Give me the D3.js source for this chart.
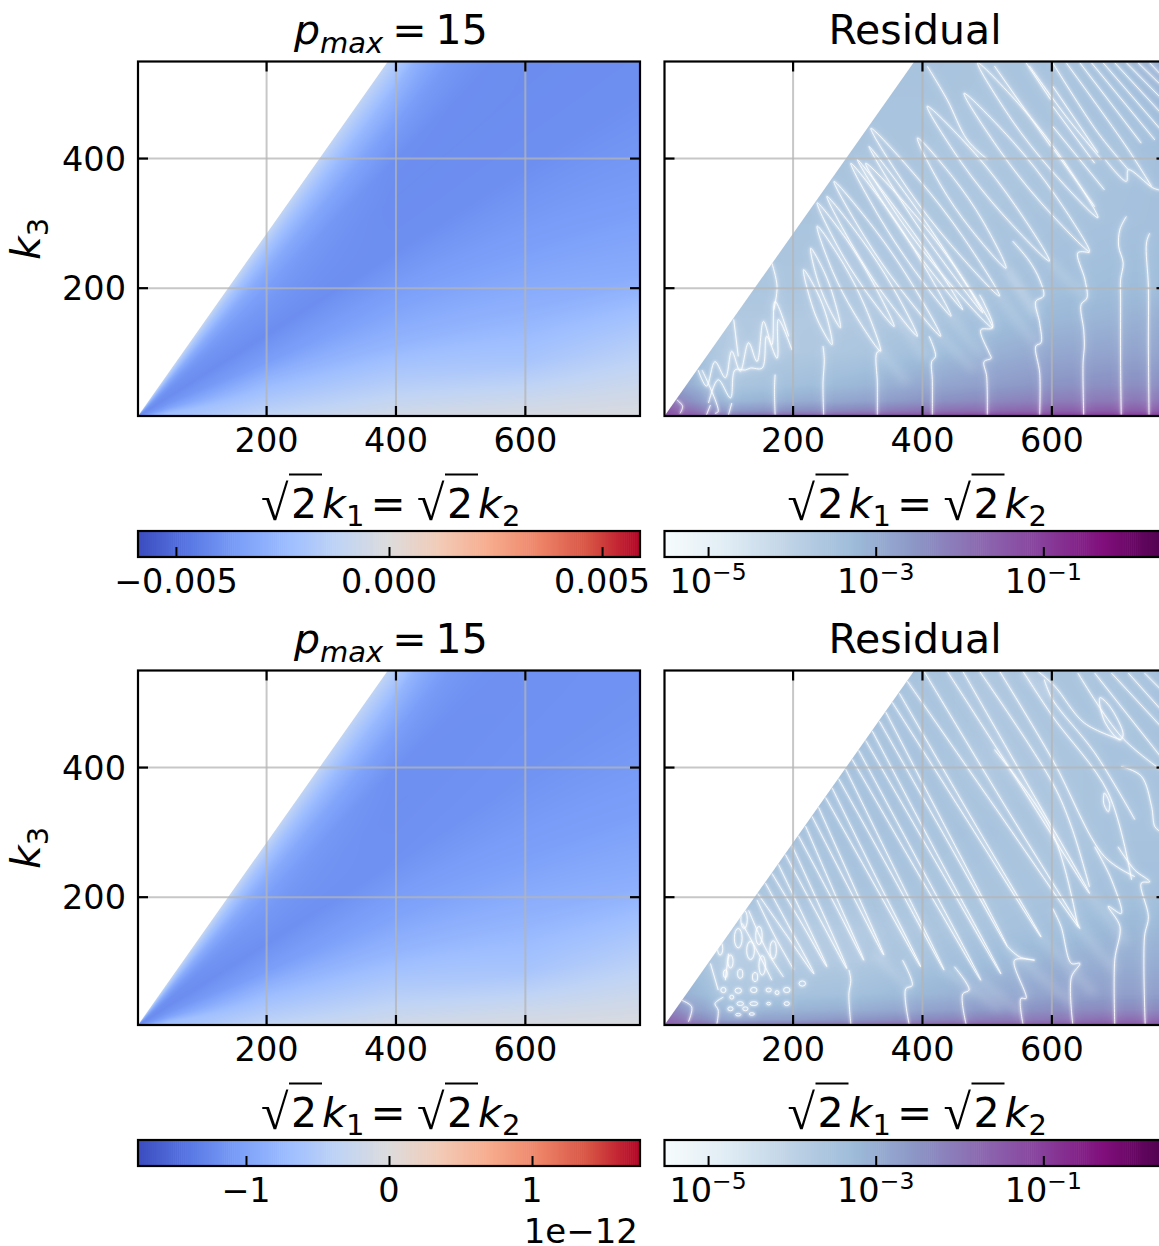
<!DOCTYPE html>
<html><head><meta charset="utf-8">
<script src="https://cdn.jsdelivr.net/npm/d3@7"></script>
<style>
html,body{margin:0;padding:0;background:#fff;overflow:hidden}
svg{display:block}
text{font-family:"DejaVu Sans";fill:#000}
</style></head><body>
<svg id="fig" width="1159" height="1246"></svg>
<script>
// ---------- axis data ----------
const xDomain=[2,778], yDomain=[2,549];
const xTicks=[200,400,600], yTicks=[200,400];
const cbTicksA=[-0.005,0,0.005], cbLabelsA=["\u22120.005","0.000","0.005"], cbDomainA=[-0.00589,0.00589];
const cbTicksB=[-1e-12,0,1e-12], cbLabelsB=["\u22121","0","1"], cbDomainB=[-1.755e-12,1.755e-12];
const cbTicksLog=[1e-5,1e-3,1e-1], cbExpLog=["\u22125","\u22123","\u22121"], cbDomainLog=[3.02e-6,2.95];
const coolwarmStops=["#3b4cc0","#5977e3","#7b9ff9","#9ebeff","#c0d4f5","#dddcdc","#f2cbb7","#f7ac8e","#ee8468","#d65244","#b40426"];
const bupuStops=["#f7fcfd","#e0ecf4","#bfd3e6","#9ebcda","#8c96c6","#8c6bb1","#88419d","#810f7c","#4d004b"];

// ---------- left fields: value on (k1 column, k3/(sqrt2 k1) row) ----------
const fieldCols=[5,50,200,400,600,778];
const fieldRatios=[0,0.03,0.1,0.2,0.3,0.45,0.6,0.7,0.8,0.9,1];
const fieldTop=[ // in units of 1e-3
 [-2.36,-1.41,-0.94,-0.35,-0.18,-0.12],
 [-2.9,-2.2,-1.3,-0.82,-0.71,-0.53],
 [-3.53,-2.36,-1.88,-1.65,-2.0,-1.53],
 [-3.9,-3.3,-2.65,-2.71,-2.89,-3.06],
 [-4.0,-3.77,-3.53,-3.36,-3.48,-3.59],
 [-4.12,-4.06,-4.05,-4.0,-4.0,-4.0],
 [-3.89,-3.95,-3.77,-4.05,-4.05,-4.05],
 [-3.53,-3.65,-3.53,-4.0,-4.05,-4.05],
 [-2.95,-3.06,-3.06,-3.53,-4.0,-4.05],
 [-2.0,-2.12,-2.24,-2.59,-4.0,-4.05],
 [-0.94,-0.94,-1.06,-1.18,-1.18,-1.18]];
const fieldBottom=[ // in units of 1e-12
 [-0.70,-0.42,-0.28,-0.12,-0.06,-0.035],
 [-0.88,-0.67,-0.39,-0.25,-0.21,-0.16],
 [-1.05,-0.70,-0.56,-0.49,-0.60,-0.46],
 [-1.16,-0.98,-0.79,-0.79,-0.84,-0.88],
 [-1.19,-1.12,-1.05,-1.0,-1.03,-1.05],
 [-1.22,-1.21,-1.19,-1.17,-1.16,-1.16],
 [-1.16,-1.19,-1.12,-1.19,-1.18,-1.17],
 [-1.05,-1.09,-1.05,-1.18,-1.18,-1.17],
 [-0.88,-0.91,-0.91,-1.05,-1.18,-1.17],
 [-0.60,-0.63,-0.67,-0.77,-1.18,-1.17],
 [-0.28,-0.28,-0.32,-0.35,-0.35,-0.35]];

// ---------- right fields: log10 residual on (k1 column, k3 row) ----------
const resCols=[2,40,100,200,300,400,500,600,700,778];
const resRows=[2,10,25,50,100,150,200,300,400,549];
const resTop=[
 [-1.3,-1.4,-1.9,-1.7,-1.5,-1.3,-1.1,-1.0,-0.9,-0.9],
 [-1.4,-1.8,-2.6,-2.4,-2.2,-1.9,-1.8,-1.6,-1.5,-1.5],
 [-1.8,-2.4,-3.2,-3.0,-2.8,-2.5,-2.3,-2.1,-2.0,-2.0],
 [-2.6,-3.0,-3.6,-3.4,-3.2,-2.9,-2.7,-2.5,-2.4,-2.4],
 [-3.2,-3.4,-3.8,-3.7,-3.6,-3.4,-3.1,-2.9,-2.8,-2.8],
 [-3.6,-3.6,-3.7,-3.7,-3.7,-3.6,-3.4,-3.2,-3.1,-3.0],
 [-3.5,-3.5,-3.6,-3.6,-3.6,-3.6,-3.5,-3.4,-3.3,-3.3],
 [-3.5,-3.5,-3.55,-3.55,-3.55,-3.55,-3.55,-3.5,-3.45,-3.4],
 [-3.5,-3.5,-3.55,-3.55,-3.55,-3.55,-3.6,-3.55,-3.5,-3.4],
 [-3.5,-3.5,-3.5,-3.5,-3.5,-3.5,-3.55,-3.5,-3.3,-3.0]];
const resBottom=[
 [-1.6,-1.7,-2.1,-2.0,-1.9,-1.7,-1.6,-1.5,-1.4,-1.4],
 [-1.7,-2.1,-2.8,-2.7,-2.5,-2.3,-2.1,-2.0,-1.8,-1.8],
 [-2.1,-2.6,-3.2,-3.1,-3.0,-2.8,-2.6,-2.4,-2.3,-2.3],
 [-2.7,-3.1,-3.6,-3.5,-3.4,-3.2,-3.0,-2.8,-2.7,-2.7],
 [-3.2,-3.4,-3.8,-3.7,-3.7,-3.5,-3.3,-3.1,-3.0,-3.0],
 [-3.4,-3.5,-3.7,-3.7,-3.7,-3.6,-3.5,-3.4,-3.2,-3.2],
 [-3.45,-3.45,-3.5,-3.5,-3.5,-3.5,-3.55,-3.5,-3.4,-3.4],
 [-3.4,-3.4,-3.4,-3.4,-3.4,-3.45,-3.5,-3.6,-3.5,-3.5],
 [-3.4,-3.4,-3.4,-3.35,-3.35,-3.45,-3.65,-3.6,-3.5,-3.5],
 [-3.4,-3.4,-3.4,-3.4,-3.4,-3.5,-3.6,-3.55,-3.5,-3.4]];

// ---------- residual ridges (k1,k3) : top panel ----------
const loopsTop=[
 [[217,228],[238,193],[253,154],[261,112],[240,147],[226,186]],
 [[228,261],[249,224],[264,183],[274,138],[253,175],[237,217]],
 [[238,295],[279,236],[312,171],[336,102],[295,161],[262,225]],
 [[238,331],[285,272],[324,208],[357,140],[310,199],[270,263]],
 [[253,341],[307,274],[354,202],[393,125],[339,192],[293,264]],
 [[264,364],[327,290],[382,210],[429,125],[366,199],[311,279]],
 [[290,392],[349,318],[400,239],[445,156],[386,230],[334,309]],
 [[300,398],[359,323],[414,246],[463,166],[403,240],[349,317]],
 [[313,392],[388,314],[453,229],[509,138],[434,217],[369,301]],
 [[318,418],[382,335],[440,250],[494,161],[430,244],[371,329]],
 [[321,446],[396,366],[463,279],[520,187],[444,267],[377,354]],
 [[393,431],[448,370],[494,303],[530,230],[475,291],[429,358]],
 [[408,480],[482,407],[544,327],[597,241],[524,314],[461,393]],
 [[465,500],[540,426],[605,344],[659,256],[584,331],[520,412]],
 [[486,547],[558,474],[620,394],[672,308],[600,381],[538,460]]];
const ridgesTop=[
 [[173,4],[172,43],[173,66]],
 [[248,4],[247,53],[249,89],[247,110]],
 [[331,4],[331,53],[330,99],[336,104]],
 [[416,4],[416,58],[415,86],[421,94],[411,125]],
 [[501,4],[500,63],[496,86],[507,91],[504,99],[491,135],[509,138],[496,176],[489,189]],
 [[582,4],[582,68],[576,110],[584,115],[582,145],[576,179],[588,187],[582,212],[566,241],[540,272]],
 [[650,4],[649,84],[651,110],[650,135],[646,174],[655,184],[652,212],[641,254],[659,254]],
 [[708,4],[707,84],[707,181],[707,212],[711,238],[704,264],[706,290],[716,310]],
 [[751,4],[750,109],[750,202],[747,269],[752,284]],
 [[566,542],[623,464],[677,398]],
 [[602,547],[672,439],[719,382]],
 [[623,547],[719,413],[755,356]],
 [[644,547],[739,423]],
 [[662,547],[760,428]],
 [[680,547],[769,444]],
 [[698,547],[769,470]],
 [[716,547],[769,493]],
 [[734,547],[769,513]],
 [[752,547],[769,529]],
 [[683,398],[716,364],[719,382],[757,354],[770,350]],
 [[602,511],[672,408]],
 [[602,480],[667,392]],
 [[602,449],[682,351]],
 [[604,413],[667,325]],
 [[408,542],[439,490],[470,428],[501,398]],
 [[512,542],[599,418]],
 [[561,547],[599,490]],
 [[54,73],[67,48],[80,86],[96,61],[106,102],[119,71],[132,115],[145,86],[155,148],[168,112],[173,179],[194,125]],
 [[70,22],[85,58],[104,30],[111,73],[127,73],[135,76],[153,76],[160,125],[176,91],[178,151],[199,104]],
 [[21,27],[30,17],[26,6]],
 [[67,4],[73,19]],
 [[80,6],[85,9],[60,73]],
 [[101,4],[106,22]],
 [[109,151],[116,94]],
 [[168,238],[176,202],[171,166]]];
const streaksTop=[
 [[532,228],[574,156]],[[445,156],[491,94]],[[520,187],[574,115]],[[597,241],[651,187]],
 [[530,230],[579,161]],[[362,153],[408,89]],[[336,102],[377,53]],[[429,125],[481,73]]];

// ---------- residual ridges (k1,k3) : bottom panel ----------
const ridgesBottom=[
 [[146,205],[189,143],[233,81],[196,151],[158,221]],
 [[168,236],[211,164],[253,92],[216,171],[178,250]],
 [[189,265],[236,177],[284,89],[242,185],[199,279]],
 [[209,294],[260,198],[310,102],[265,205],[220,309]],
 [[230,324],[285,217],[341,110],[291,224],[240,338]],
 [[251,353],[324,223],[398,92],[329,230],[261,368]],
 [[271,382],[353,235],[434,87],[358,242],[282,397]],
 [[292,412],[391,241],[491,71],[397,249],[302,426]],
 [[313,441],[417,261],[522,81],[422,268],[323,456]],
 [[334,471],[433,297],[532,123],[438,304],[344,485]],
 [[354,500],[469,319],[584,138],[474,326],[365,514]],
 [[377,533],[510,342],[644,151],[523,349],[403,548]],
 [[439,548],[549,377],[659,205],[561,377],[463,548]],
 [[489,548],[602,375],[631,308],[659,215]],
 [[520,548],[602,411],[682,262],[729,231]],
 [[556,548],[602,478],[688,360],[724,226]],
 [[579,548],[605,525],[651,468],[708,442]],
 [[589,535],[602,504],[667,422],[729,319]],
 [[512,427],[602,298],[641,154]],
 [[290,4],[287,50],[290,71],[287,87]],
 [[380,4],[375,58],[385,63],[370,102]],
 [[468,4],[463,50],[473,56],[450,92]],
 [[556,4],[553,43],[561,43],[543,102],[574,102],[551,107],[532,123]],
 [[633,4],[631,76],[644,97],[631,97],[615,154],[602,182]],
 [[698,4],[698,102],[706,154],[688,185],[708,174],[693,226],[667,277]],
 [[745,4],[744,138],[750,169],[739,221],[752,223],[729,241],[703,277]],
 [[641,545],[708,447],[769,396]],
 [[667,545],[769,416]],
 [[693,545],[769,463]],
 [[719,545],[769,489]],
 [[744,545],[769,520]],
 [[708,401],[739,386],[755,339],[760,308],[769,300]],
 [[145,195],[173,138],[202,87]],
 [[132,179],[160,117],[186,76]],
 [[122,159],[150,107],[168,71]],
 [[73,97],[85,56]],
 [[101,112],[96,71]],
 [[83,4],[85,25],[80,35],[93,45]],
 [[29,40],[44,30],[39,7]]];
const loopsBottom=[
 [[675,507],[690,494],[711,450],[706,442],[682,471]],
 [[682,360],[690,344],[688,331],[681,344]]];
const ovalsBottom=[
 [93,56,4,4],[116,55,5,4],[140,56,5,4],[106,45,3,3],[119,35,5,3],[140,35,6,3],[104,27,4,3],[127,27,4,3],
 [116,18,4,2],[137,19,4,2],[191,56,5,4],[191,35,4,3],[163,35,3,2],[176,52,3,3],[163,56,4,3],[116,136,6,15],
 [135,117,6,14],[153,94,5,15],[96,81,3,6],[119,81,4,7],[142,76,4,7],[215,66,5,4],
 [88,120,4,10],[104,100,4,10],[125,165,5,14],[148,140,5,14],[170,118,5,14]];
const streaksBottom=[
 [[434,89],[522,25]],[[491,71],[553,20]],[[532,123],[631,35]],[[584,138],[667,50]],
 [[326,112],[380,60]],[[644,151],[698,87]],[[659,205],[718,128]],[[556,548],[600,505]]];

// ---------- helpers ----------
const svg=d3.select("#fig");
const defs=svg.append("defs");
defs.append("filter").attr("id","blurA").attr("filterUnits","userSpaceOnUse").attr("x",-50).attr("y",-50).attr("width",600).attr("height",500)
  .append("feGaussianBlur").attr("stdDeviation",1.3);
defs.append("filter").attr("id","blurB").attr("filterUnits","userSpaceOnUse").attr("x",-50).attr("y",-50).attr("width",600).attr("height",500)
  .append("feGaussianBlur").attr("stdDeviation",4.5);
const coolwarm=d3.piecewise(d3.interpolateRgb,coolwarmStops);
const bupu=d3.piecewise(d3.interpolateRgb,bupuStops);
const W=502,H=354.5;
const rowsY=[61.5,670.5], colsX=[138,664.5];
const EM=33.5;

function bilinear(cols,rows,mat){
  const ci=d3.scaleLinear().domain(cols).range(d3.range(cols.length)).clamp(true);
  const ri=d3.scaleLinear().domain(rows).range(d3.range(rows.length)).clamp(true);
  return (cv,rv)=>{
    const a=ci(cv),b=ri(rv),i=Math.min(Math.floor(a),cols.length-2),j=Math.min(Math.floor(b),rows.length-2),u=a-i,v=b-j;
    return (1-v)*((1-u)*mat[j][i]+u*mat[j][i+1])+v*((1-u)*mat[j+1][i]+u*mat[j+1][i+1]);
  };
}
function fieldImage(g,x,y,valueAt,colorOf){
  const c=document.createElement("canvas");c.width=W;c.height=Math.ceil(H);
  const ctx=c.getContext("2d"),im=ctx.createImageData(c.width,c.height);
  for(let py=0;py<c.height;py++)for(let px=0;px<c.width;px++){
    const col=d3.rgb(colorOf(valueAt(x.invert(px+.5),y.invert(py+.5))));
    const o=(py*c.width+px)*4;
    im.data[o]=col.r;im.data[o+1]=col.g;im.data[o+2]=col.b;im.data[o+3]=255;
  }
  ctx.putImageData(im,0,0);
  g.append("image").attr("href",c.toDataURL()).attr("width",c.width).attr("height",c.height);
}
function panel(col,row,draw){
  const id="w"+col+row;
  const g=svg.append("g").attr("transform",`translate(${colsX[col]},${rowsY[row]})`);
  const x=d3.scaleLinear().domain(xDomain).range([0,W]);
  const y=d3.scaleLinear().domain(yDomain).range([H,0]);
  const yEdge=yDomain[1];
  const edge=[[xDomain[0],yDomain[0]],[yEdge/Math.SQRT2,yEdge],[xDomain[1],yEdge],[xDomain[1],yDomain[0]],[xDomain[0],yDomain[0]]];
  defs.append("clipPath").attr("id",id).append("path")
    .attr("d",d3.line().x(d=>x(d[0])).y(d=>y(d[1]))(edge)+"Z");
  const inner=g.append("g").attr("clip-path",`url(#${id})`);
  draw(inner,x,y);
  const grid=g.append("g");
  grid.append("g").attr("transform",`translate(0,${H})`).call(d3.axisBottom(x).tickValues(xTicks).tickSize(-H).tickSizeOuter(0).tickFormat(""));
  grid.append("g").call(d3.axisLeft(y).tickValues(yTicks).tickSize(-W).tickSizeOuter(0).tickFormat(""));
  grid.selectAll(".domain").remove();
  grid.selectAll("line").attr("stroke","#b4b4b4").attr("stroke-opacity",.75).attr("stroke-width",2);
  const tk=g.append("g");
  tk.append("g").attr("transform",`translate(0,${H})`).call(d3.axisBottom(x).tickValues(xTicks).tickSize(-10).tickSizeOuter(0).tickPadding(12));
  tk.append("g").call(d3.axisTop(x).tickValues(xTicks).tickSize(-10).tickSizeOuter(0).tickFormat(""));
  const l=tk.append("g").call(d3.axisLeft(y).tickValues(yTicks).tickSize(-10).tickSizeOuter(0).tickPadding(12));
  tk.append("g").attr("transform",`translate(${W},0)`).call(d3.axisRight(y).tickValues(yTicks).tickSize(-10).tickSizeOuter(0).tickFormat(""));
  tk.selectAll(".domain").remove();
  tk.selectAll("line").attr("stroke","#000").attr("stroke-width",2.2);
  tk.selectAll("text").style("font-family","DejaVu Sans").style("font-size",EM+"px").attr("fill","#000");
  l.selectAll("text").attr("dy","0.36em");
  if(col===1) l.selectAll("text").remove();
  g.append("rect").attr("width",W).attr("height",H).attr("fill","none").attr("stroke","#000").attr("stroke-width",2.2);
}
function ridges(g,x,y,lines,loops,ovals,streaks){
  const open=d3.line().x(d=>x(d[0])).y(d=>y(d[1])).curve(d3.curveCatmullRom.alpha(.5));
  const closed=d3.line().x(d=>x(d[0])).y(d=>y(d[1])).curve(d3.curveCatmullRomClosed.alpha(.5));
  const soft=g.append("g").attr("filter","url(#blurB)").attr("fill","none").attr("stroke","#fff").attr("stroke-width",8).attr("stroke-opacity",.17);
  soft.selectAll("path").data(streaks).join("path").attr("d",open);
  const layer=(p,w,o)=>{
    p.attr("fill","none").attr("stroke","#fff").attr("stroke-width",w).attr("stroke-opacity",o);
    p.selectAll("path.o").data(lines).join("path").attr("class","o").attr("d",open);
    p.selectAll("path.c").data(loops).join("path").attr("class","c").attr("d",closed);
    p.selectAll("ellipse").data(ovals).join("ellipse")
      .attr("cx",d=>x(d[0])).attr("cy",d=>y(d[1]))
      .attr("rx",d=>x(d[0]+d[2])-x(d[0])).attr("ry",d=>y(d[1]-d[3])-y(d[1]));
  };
  layer(g.append("g").attr("filter","url(#blurB)"),6,.13);
  layer(g.append("g").attr("filter","url(#blurA)"),2.8,.4);
  layer(g.append("g"),1.0,.85);
}

// ---------- panels ----------
const unitA=1e-3,unitB=1e-12;
const colorA=d3.scaleLinear().domain(cbDomainA).range([0,1]);
const colorB=d3.scaleLinear().domain(cbDomainB).range([0,1]);
const colorL=d3.scaleLog().domain(cbDomainLog).range([0,1]).clamp(true);
function leftPanel(row,mat,unit,cs){
  panel(0,row,(g,x,y)=>{
    const f=bilinear(fieldCols,fieldRatios,mat);
    fieldImage(g,x,y,(k1,k3)=>f(k1,Math.min(1,k3/(Math.SQRT2*Math.max(k1,1))))*unit,v=>coolwarm(cs(v)));
  });
}
function rightPanel(row,mat,lines,loops,ovals,streaks){
  panel(1,row,(g,x,y)=>{
    const f=bilinear(resCols,resRows,mat);
    fieldImage(g,x,y,(k1,k3)=>Math.pow(10,f(k1,k3)),v=>bupu(colorL(v)));
    ridges(g,x,y,lines,loops,ovals,streaks);
  });
}
leftPanel(0,fieldTop,unitA,colorA);
rightPanel(0,resTop,ridgesTop,loopsTop,[],streaksTop);
leftPanel(1,fieldBottom,unitB,colorB);
rightPanel(1,resBottom,ridgesBottom,loopsBottom,ovalsBottom,streaksBottom);

// ---------- colorbars ----------
const barH=26, barY=[531,1140];
function colorbar(col,row,scale,ramp,ticks,labels,exps){
  const g=svg.append("g").attr("transform",`translate(${colsX[col]},${barY[row]})`);
  const n=256;
  g.selectAll("rect.s").data(d3.range(n)).join("rect").attr("class","s")
    .attr("x",i=>i*W/n).attr("width",W/n+.6).attr("height",barH)
    .attr("fill",i=>ramp((i+.5)/n));
  const ax=g.append("g").attr("transform",`translate(0,${barH})`)
    .call(d3.axisBottom(scale).tickValues(ticks).tickSize(-10).tickSizeOuter(0).tickFormat(""));
  ax.select(".domain").remove();
  ax.selectAll("line").attr("stroke","#000").attr("stroke-width",2);
  g.append("rect").attr("width",W).attr("height",barH).attr("fill","none").attr("stroke","#000").attr("stroke-width",2.2);
  ticks.forEach((t,i)=>{
    const tx=g.append("text").attr("x",scale(t)).attr("y",barH+36).attr("text-anchor","middle").style("font-size",EM+"px");
    if(exps){
      tx.append("tspan").text("10");
      tx.append("tspan").attr("dy",-13).style("font-size","23.5px").text(exps[i]);
    } else tx.text(labels[i]);
  });
}
colorbar(0,0,d3.scaleLinear().domain(cbDomainA).range([0,W]),coolwarm,cbTicksA,cbLabelsA);
colorbar(1,0,d3.scaleLog().domain(cbDomainLog).range([0,W]),bupu,cbTicksLog,null,cbExpLog);
colorbar(0,1,d3.scaleLinear().domain(cbDomainB).range([0,W]),coolwarm,cbTicksB,cbLabelsB);
colorbar(1,1,d3.scaleLog().domain(cbDomainLog).range([0,W]),bupu,cbTicksLog,null,cbExpLog);
svg.append("text").attr("x",638).attr("y",1243).attr("text-anchor","end").style("font-size","34px").text("1e\u221212");

// ---------- titles and labels ----------
const FS=41;
function pmax(lx,by){
  const t=svg.append("text").attr("x",lx).attr("y",by).style("font-size",FS+"px");
  t.append("tspan").style("font-style","italic").text("p");
  t.append("tspan").attr("dy",9).style("font-size","29px").style("font-style","italic").text("max");
  t.append("tspan").attr("dy",-9).attr("dx",9).text("=");
  t.append("tspan").attr("dx",9).text("15");
}
function residual(cx,by){svg.append("text").attr("x",cx).attr("y",by).attr("text-anchor","middle").style("font-size",FS+"px").text("Residual");}
function rootLabel(cx,by){
  const g=svg.append("g").attr("transform",`translate(${cx},${by})`);
  const put=(dx,dy,s,size,it)=>g.append("text").attr("x",dx).attr("y",dy).style("font-size",size+"px").style("font-style",it?"italic":"normal").text(s);
  [0,156].forEach((o,i)=>{
    put(-128+o,2,"\u221a",50).style("font-family","Liberation Serif");
    g.append("line").attr("x1",-100+o).attr("x2",-67+o).attr("y1",-43.5).attr("y2",-43.5).attr("stroke","#000").attr("stroke-width",1.8);
    put(-98+o,0,"2",FS);
    put(-67+o,0,"k",FS,true);
    put(-43+o,8,String(i+1),29);
  });
  put(-18.5,0,"=",42);
}
function k3Label(cx,cy){
  const g=svg.append("g").attr("transform",`translate(${cx},${cy}) rotate(-90)`);
  const t=g.append("text").attr("text-anchor","middle").style("font-size",FS+"px");
  t.append("tspan").style("font-style","italic").text("k");
  t.append("tspan").attr("dy",8).style("font-size","29px").text("3");
}
[0,1].forEach(r=>{
  const off=rowsY[r]-rowsY[0];
  pmax(294,44+off);
  residual(915,44+off);
  rootLabel(389,518+off);
  rootLabel(915.5,518+off);
  k3Label(40,239+off);
});
</script>
</body></html>
